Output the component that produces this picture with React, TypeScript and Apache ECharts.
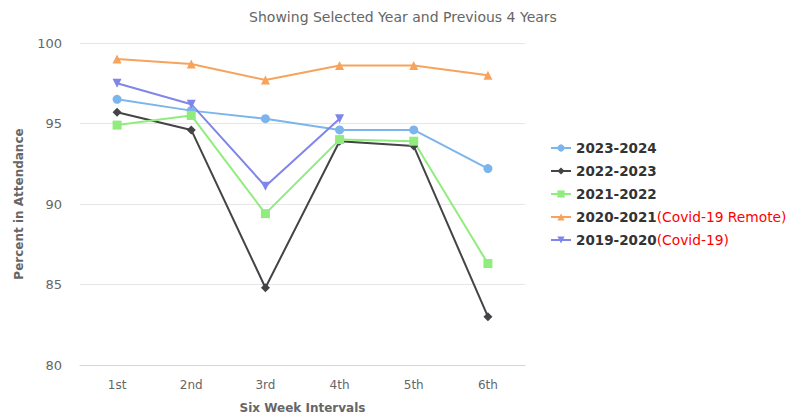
import React, { useEffect, useRef } from "react";
import * as echarts from "echarts";

const categories = ["1st", "2nd", "3rd", "4th", "5th", "6th"];
const s2023 = [96.5, 95.8, 95.3, 94.6, 94.6, 92.2];
const s2022 = [95.7, 94.6, 84.8, 93.9, 93.6, 83.0];
const s2021 = [94.9, 95.5, 89.4, 94.0, 93.9, 86.3];
const s2020 = [99.0, 98.7, 97.7, 98.6, 98.6, 98.0];
const s2019 = [97.5, 96.2, 91.1, 95.3, null, null];
const yTicks = [80, 85, 90, 95, 100];

const FONT = "DejaVu Sans, Verdana, sans-serif";

export default function App() {
  const ref = useRef<HTMLDivElement>(null);
  useEffect(() => {
    if (!ref.current) return;
    const chart = echarts.init(ref.current, undefined, { renderer: "svg" });
    const mk = (name: string, data: (number | null)[], color: string, symbol: string, size: number, rotate = 0) => ({
      name,
      type: "line",
      data,
      symbol,
      symbolSize: size,
      symbolRotate: rotate,
      showAllSymbol: true,
      connectNulls: false,
      lineStyle: { width: 2, color },
      itemStyle: { color },
      emphasis: { disabled: true },
    });
    chart.setOption({
      animation: false,
      textStyle: { fontFamily: FONT },
      title: {
        text: "Showing Selected Year and Previous 4 Years",
        left: 398,
        textAlign: "center",
        top: 5,
        textStyle: { color: "#666666", fontSize: 14, fontWeight: "normal", fontFamily: FONT },
      },
      grid: { left: 80, right: 268, top: 43, bottom: 53 },
      xAxis: {
        type: "category",
        data: categories,
        boundaryGap: true,
        name: "Six Week Intervals",
        nameLocation: "middle",
        nameGap: 37,
        nameTextStyle: { color: "#666666", fontSize: 12, fontWeight: "bold", fontFamily: FONT },
        axisLine: { show: true, lineStyle: { color: "#ccd6eb", width: 1 } },
        axisTick: { show: false },
        axisLabel: { color: "#666666", fontSize: 12, margin: 14, fontFamily: FONT },
      },
      yAxis: {
        type: "value",
        min: yTicks[0],
        max: yTicks[yTicks.length - 1],
        interval: 5,
        name: "Percent in Attendance",
        nameLocation: "middle",
        nameGap: 55,
        nameTextStyle: { color: "#666666", fontSize: 12, fontWeight: "bold", fontFamily: FONT },
        axisLine: { show: false },
        axisTick: { show: false },
        splitLine: { lineStyle: { color: "#e6e6e6", width: 1 } },
        axisLabel: { color: "#666666", fontSize: 13, margin: 18, fontFamily: FONT },
      },
      legend: {
        orient: "vertical",
        left: 545,
        top: 136,
        itemGap: 9,
        itemWidth: 20,
        itemHeight: 9,
        selectedMode: false,
        data: ["2023-2024", "2022-2023", "2021-2022", "2020-2021", "2019-2020"],
        formatter: (name: string) => {
          if (name === "2020-2021") return "{a|2020-2021}{r|(Covid-19 Remote)}";
          if (name === "2019-2020") return "{a|2019-2020}{r|(Covid-19)}";
          return "{a|" + name + "}";
        },
        textStyle: {
          fontFamily: FONT,
          rich: {
            a: { color: "#333333", fontSize: 13.5, fontWeight: "bold", fontFamily: FONT, lineHeight: 16 },
            r: { color: "#ff0000", fontSize: 13.8, fontFamily: FONT, lineHeight: 16 },
          },
        },
      },
      series: [
        mk("2023-2024", s2023, "#7cb5ec", "circle", 9),
        mk("2022-2023", s2022, "#434348", "diamond", 9),
        mk("2021-2022", s2021, "#90ed7d", "rect", 9),
        mk("2020-2021", s2020, "#f7a35c", "triangle", 9),
        mk("2019-2020", s2019, "#8085e9", "triangle", 9, 180),
      ],
    });
    return () => chart.dispose();
  }, []);
  return <div ref={ref} style={{ width: 793, height: 419, position: "absolute", left: 0, top: 0 }} />;
}
